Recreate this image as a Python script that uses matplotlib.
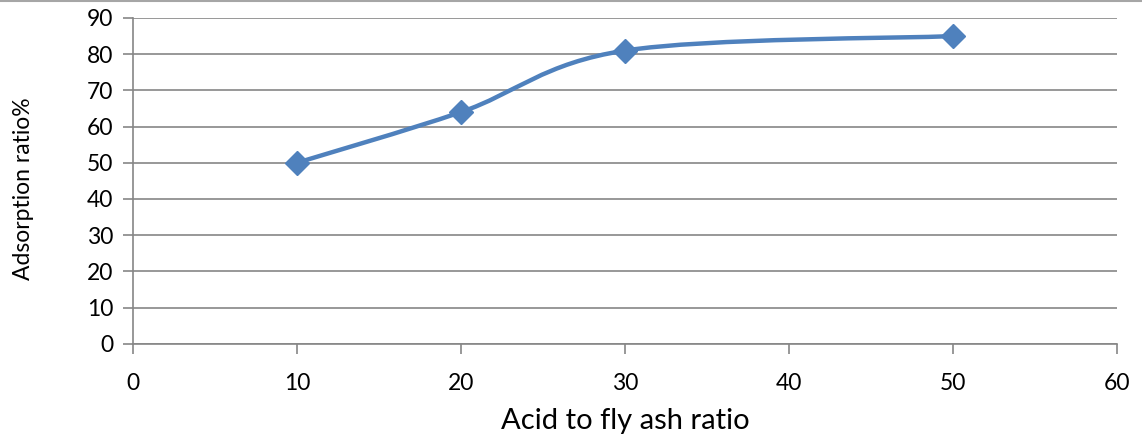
import matplotlib
matplotlib.use("Agg")
import matplotlib.pyplot as plt
from matplotlib.path import Path
from matplotlib.patches import PathPatch
from matplotlib.lines import Line2D
import numpy as np

x_vals = [10, 20, 30, 50]
y_vals = [50, 64, 81, 85]
x_ticks = [0, 10, 20, 30, 40, 50, 60]
y_ticks = [0, 10, 20, 30, 40, 50, 60, 70, 80, 90]
x_label = "Acid to fly ash ratio"
y_label = "Adsorption ratio%"

color = "#4F81BD"
gridc = "#868686"

plt.rcParams['font.family'] = ['Lato', 'DejaVu Sans']

fig = plt.figure(figsize=(11.42, 4.41), dpi=100)
ax = fig.add_axes([133/1142, 1 - 343.7/441, (1117-133)/1142, (343.7-18)/441])

# smooth path (Catmull-Rom style Bezier)
pts = np.column_stack([x_vals, y_vals]).astype(float)
n = len(pts)
verts = [tuple(pts[0])]
codes = [Path.MOVETO]
t = 1/6
for i in range(n - 1):
    p0 = pts[i - 1] if i > 0 else pts[i]
    p1 = pts[i]
    p2 = pts[i + 1]
    p3 = pts[i + 2] if i + 2 < n else pts[i + 1]
    c1 = p1 + (p2 - p0) * t
    c2 = p2 - (p3 - p1) * t
    verts += [tuple(c1), tuple(c2), tuple(p2)]
    codes += [Path.CURVE4] * 3
ax.add_patch(PathPatch(Path(verts, codes), facecolor='none', edgecolor=color,
                       lw=3.2, capstyle='round', joinstyle='round', zorder=3))
ax.plot(x_vals, y_vals, linestyle='none', marker='D', markersize=12.5,
        color=color, zorder=4)

ax.set_xlim(0, 60)
ax.set_ylim(0, 90)
ax.set_xticks(x_ticks)
ax.set_yticks(y_ticks)
ax.grid(axis='y', color=gridc, lw=1.2)
ax.set_axisbelow(True)
for s in ['top', 'right']:
    ax.spines[s].set_visible(False)
for s in ['left', 'bottom']:
    ax.spines[s].set_color(gridc)
    ax.spines[s].set_linewidth(1.2)
ax.tick_params(axis='both', colors=gridc, length=7, width=1.2, labelcolor='black',
               labelsize=16.5)
ax.tick_params(axis='x', pad=14)
ax.tick_params(axis='y', pad=7)
ax.set_xlabel(x_label, fontsize=21, labelpad=10)
ax.set_ylabel(y_label, fontsize=16.5)
ax.yaxis.set_label_coords(-0.101, 0.476)

fig.add_artist(Line2D([0, 1], [1 - 1/441, 1 - 1/441], color='#A6A6A6', lw=1.5,
                      transform=fig.transFigure))

fig.savefig("out.png", dpi=100)
